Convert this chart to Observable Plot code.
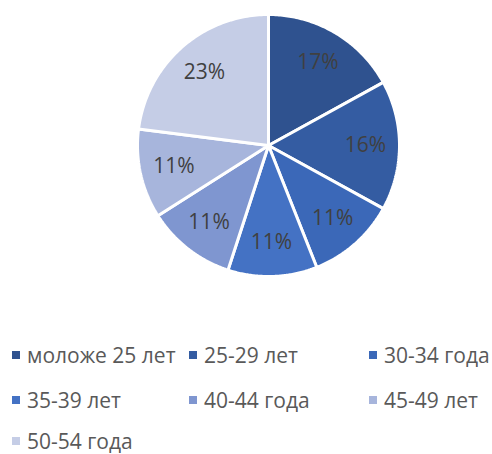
<!DOCTYPE html>
<html>
<head>
<meta charset="utf-8">
<script src="https://cdn.jsdelivr.net/npm/d3@7"></script>
<script src="https://cdn.jsdelivr.net/npm/@observablehq/plot@0.6"></script>
<style>
  html, body { margin: 0; padding: 0; background: #fff; overflow: hidden; }
  #wrap { position: relative; width: 492px; height: 454px; font-family: "Open Sans", sans-serif; }
  .leg { position: absolute; display: flex; align-items: center; font-size: 21px; color: #595959; white-space: nowrap; line-height: 1; }
  .sw { width: 8px; height: 8px; margin-right: 7px; flex: none; }
</style>
</head>
<body>
<div id="wrap"></div>
<script>
const categories = ["моложе 25 лет", "25-29 лет", "30-34 года", "35-39 лет", "40-44 года", "45-49 лет", "50-54 года"];
const values = [17, 16, 11, 11, 11, 11, 23];
const labels = ["17%", "16%", "11%", "11%", "11%", "11%", "23%"];
const colors = ["#2F528F", "#345CA2", "#3B68B8", "#4472C4", "#7F96D0", "#A7B5DC", "#C5CDE6"];

const R = 131, LR = 97;
const arcs = d3.pie().sort(null)(values);
const polys = [];
arcs.forEach((a, i) => {
  const cat = categories[i];
  polys.push({cat, x: 0, y: 0});
  const n = 80;
  for (let k = 0; k <= n; k++) {
    const t = a.startAngle + (a.endAngle - a.startAngle) * k / n;
    polys.push({cat, x: R * Math.sin(t), y: R * Math.cos(t)});
  }
  polys.push({cat, x: 0, y: 0});
});
const labs = arcs.map((a, i) => {
  const m = (a.startAngle + a.endAngle) / 2;
  return {cat: categories[i], label: labels[i], x: LR * Math.sin(m), y: LR * Math.cos(m)};
});

const chart = Plot.plot({
  width: 492,
  height: 300,
  margin: 0,
  x: {domain: [-268, 224], range: [0, 492], axis: null},
  y: {domain: [-155, 145], range: [300, 0], axis: null},
  color: {domain: categories, range: colors},
  style: {fontFamily: "'Open Sans', sans-serif", background: "white"},
  marks: [
    Plot.line(polys, {x: "x", y: "y", z: "cat", fill: "cat", stroke: "white", strokeWidth: 3, strokeLinejoin: "miter"}),
    Plot.text(labs, {x: "x", y: "y", text: "label", fill: "#404040", fontSize: 21})
  ]
});
const wrap = document.getElementById("wrap");
wrap.appendChild(chart);

const colX = [12, 189, 369];
const rowY = [355, 400, 441];
categories.forEach((c, i) => {
  const d = document.createElement("div");
  d.className = "leg";
  d.style.left = colX[i % 3] + "px";
  d.style.top = (rowY[Math.floor(i / 3)] - 9) + "px";
  d.style.height = "18px";
  d.innerHTML = `<span class="sw" style="background:${colors[i]}"></span><span>${c}</span>`;
  wrap.appendChild(d);
});
</script>
</body>
</html>
